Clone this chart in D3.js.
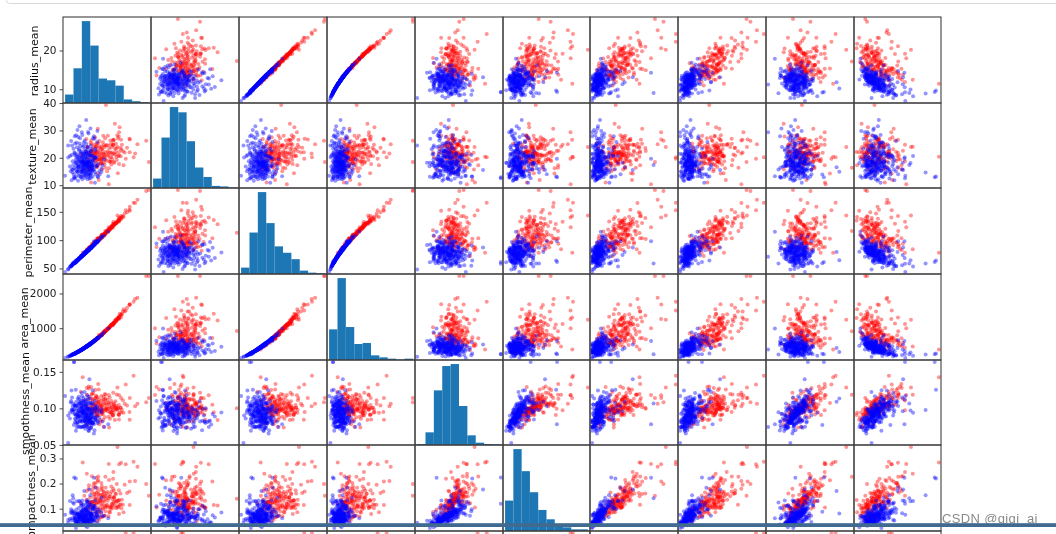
<!DOCTYPE html>
<html><head><meta charset="utf-8">
<script src="https://cdn.jsdelivr.net/npm/d3@7"></script>
<style>html,body{margin:0;padding:0;background:#fff;overflow:hidden}svg{display:block}</style>
</head><body><svg id="c" width="1056" height="534"></svg>
<script>
const features=["radius_mean","texture_mean","perimeter_mean","area_mean","smoothness_mean","compactness_mean","concavity_mean","concave points_mean","symmetry_mean","fractal_dimension_mean"];
const featureMin=[6.981,9.71,43.79,143.5,.05263,.01938,0,0,.106,.04996];
const featureMax=[28.11,39.28,188.5,2501,.1634,.3454,.4268,.2012,.304,.09744];
const yTicks=[[10,20],[10,20,30,40],[50,100,150],[1000,2000],[.05,.10,.15],[.1,.2,.3],[]];
const yTickDigits=[0,0,0,0,2,1,1];
const labelX=[35,33,29,25,26,32,30];
const histCounts=[
[19,78,184,129,55,51,39,8,4,2],
[18,96,154,144,89,39,21,4,3,1],
[19,123,243,151,82,63,44,10,4,2],
[92,246,99,48,51,14,8,4,1,4],
[3,38,164,237,243,117,29,7,3,2],
[91,245,179,116,63,35,15,11,5,5],
[240,130,75,50,30,15,8,3,2,1],
[230,110,80,60,40,25,15,6,2,1],
[10,60,170,240,130,60,25,10,3,2],
[60,210,180,70,30,10,5,2,1,1]];
const malignant=[
[17.99,10.38,122.8,1001,.1184,.2776,.3001,.1471,.2419,.07871],[20.57,17.77,132.9,1326,.08474,.07864,.0869,.07017,.1812,.05667],
[19.69,21.25,130,1203,.1096,.1599,.1974,.1279,.2069,.05999],[11.42,20.38,77.58,386.1,.1425,.2839,.2414,.1052,.2597,.09744],
[20.29,14.34,135.1,1297,.1003,.1328,.198,.1043,.1809,.05883],[12.45,15.7,82.57,477.1,.1278,.17,.1578,.08089,.2087,.07613],
[18.25,19.98,119.6,1040,.09463,.109,.1127,.074,.1794,.05742],[13.71,20.83,90.2,577.9,.1189,.1645,.09366,.05985,.2196,.07451],
[13,21.82,87.5,519.8,.1273,.1932,.1859,.09353,.235,.07389],[12.46,24.04,83.97,475.9,.1186,.2396,.2273,.08543,.203,.08243],
[16.02,23.24,102.7,797.8,.08206,.06669,.03299,.03323,.1528,.05697],[15.78,17.89,103.6,781,.0971,.1292,.09954,.06606,.1842,.06082],
[19.17,24.8,132.4,1123,.0974,.2458,.2065,.1118,.2397,.078],[15.85,23.95,103.7,782.7,.08401,.1002,.09938,.05364,.1847,.05338],
[13.73,22.61,93.6,578.3,.1131,.2293,.2128,.08025,.2069,.07682],[14.54,27.54,96.73,658.8,.1139,.1595,.1639,.07364,.2303,.07077],
[14.68,20.13,94.74,684.5,.09867,.072,.07395,.05259,.1586,.05922],[16.13,20.68,108.1,798.8,.117,.2022,.1722,.1028,.2164,.07356],
[19.81,22.15,130,1260,.09831,.1027,.1479,.09498,.1582,.05395],[15.34,14.26,102.5,704.4,.1073,.2135,.2077,.09756,.2521,.07032],
[21.16,23.04,137.2,1404,.09428,.1022,.1097,.08632,.1769,.05278],[16.65,21.38,110,904.6,.1121,.1457,.1525,.0917,.1995,.0633],
[17.14,16.4,116,912.7,.1186,.2276,.2229,.1401,.304,.07413],[14.58,21.53,97.41,644.8,.1054,.1868,.1425,.08783,.2252,.06924],
[18.61,20.25,122.1,1094,.0944,.1066,.149,.07731,.1697,.05699],[15.3,25.27,102.4,732.4,.1082,.1697,.1683,.08751,.1926,.0654],
[17.57,15.05,115,955.1,.09847,.1157,.09875,.07953,.1739,.06149],[18.63,25.11,124.8,1088,.1064,.1887,.2319,.1244,.2183,.06197],
[11.84,18.7,77.93,440.6,.1109,.1516,.1218,.05182,.2301,.07799],[17.02,23.98,112.8,899.3,.1197,.1496,.2417,.1203,.2248,.06382],
[19.27,26.47,127.9,1162,.09401,.1719,.1657,.07593,.1853,.06261],[16.13,17.88,107,807.2,.104,.1559,.1354,.07752,.1998,.06515],
[16.74,21.59,110.1,869.5,.0961,.1336,.1348,.06018,.1896,.05656],[14.25,21.72,93.63,633,.09823,.1098,.1319,.05598,.1885,.06125],
[14.99,25.2,95.54,698.8,.09387,.05131,.02398,.02899,.1565,.05504],[13.48,20.82,88.4,559.2,.1016,.1255,.1063,.05439,.172,.06419],
[13.44,21.58,86.18,563,.08162,.06031,.0311,.02031,.1784,.05587],[10.95,21.35,71.9,371.1,.1227,.1218,.1044,.05669,.1895,.0687],
[19.07,24.81,128.3,1104,.09081,.219,.2107,.09961,.231,.06343],[13.28,20.28,87.32,545.2,.1041,.1436,.09847,.06158,.1974,.06782],
[13.17,21.81,85.42,531.5,.09714,.1047,.08259,.05252,.1746,.06177],[18.65,17.6,123.7,1076,.1099,.1686,.1974,.1009,.1907,.06049],
[13.17,18.66,85.98,534.6,.1158,.1231,.1226,.0734,.2128,.06777],[18.22,18.7,120.3,1033,.1148,.1485,.1772,.106,.2092,.0631],
[15.1,22.02,97.26,712.8,.09056,.07081,.05253,.03334,.1616,.05684],[19.21,18.57,125.5,1152,.1053,.1267,.1323,.08994,.1917,.05961],
[14.71,21.59,95.55,656.9,.1137,.1365,.1293,.08123,.2027,.06758],[14.25,22.15,96.42,645.7,.1049,.2008,.2135,.08653,.1949,.07292],
[12.68,23.84,82.69,499,.1122,.1262,.1128,.06873,.1905,.0659],[14.78,23.94,97.4,668.3,.1172,.1479,.1267,.09029,.1953,.06654],
[18.94,21.31,123.6,1130,.09009,.1029,.108,.07951,.1582,.05461],[17.2,24.52,114.2,929.4,.1071,.183,.1692,.07944,.1927,.06487],
[13.8,15.79,90.43,584.1,.1007,.128,.07789,.05069,.1662,.06566],[16.07,19.65,104.1,817.7,.09168,.08424,.09769,.06638,.1798,.05391],
[13.53,10.94,87.91,559.2,.1291,.1047,.06877,.06556,.2403,.06641],[18.05,16.15,120.2,1006,.1065,.2146,.1684,.108,.2152,.06673],
[20.18,23.97,143.7,1245,.1286,.3454,.3754,.1604,.2906,.08142],[25.22,24.91,171.5,1878,.1063,.2665,.3339,.1845,.1829,.06782],
[19.1,26.29,129.1,1132,.1215,.1791,.1937,.1469,.1634,.07224],[18.46,18.52,121.1,1075,.09874,.1053,.1335,.08795,.2132,.06022],
[14.48,21.46,94.25,648.2,.09444,.09947,.1204,.04938,.2075,.05636],[19.02,24.59,122,1076,.09029,.1206,.1468,.08271,.1953,.05629],
[28.11,18.47,188.5,2499,.1142,.1516,.3201,.1595,.1648,.05525],[27.42,26.27,186.9,2501,.1084,.1988,.3635,.1689,.2061,.05623],
[24.63,21.6,165.5,1841,.103,.2106,.231,.1471,.1991,.06739],[24.25,20.2,166.2,1761,.1447,.2867,.4268,.2012,.2655,.06877],
[23.27,22.04,152.1,1686,.08439,.1145,.1324,.09702,.1528,.05173],[23.29,26.67,158.9,1685,.1141,.2084,.3523,.162,.22,.06229],
[22.27,19.67,152.8,1509,.1326,.2768,.4264,.1823,.2556,.07039],[21.71,17.25,140.9,1546,.09384,.08562,.1168,.08465,.1717,.05054],
[21.09,26.57,142.7,1311,.1141,.2832,.2487,.1496,.2395,.07398],[20.73,31.12,135.7,1419,.09469,.1143,.1367,.08646,.1769,.05674],
[20.58,22.14,134.7,1290,.0909,.1348,.164,.09561,.1765,.05024],[20.31,27.06,132.9,1288,.1,.1088,.1519,.09333,.1816,.05572],
[22.01,21.9,147.2,1482,.1063,.1954,.2448,.1501,.1824,.0614],[21.56,22.39,142,1479,.111,.1159,.2439,.1389,.1726,.05623],
[20.13,28.25,131.2,1261,.0978,.1034,.144,.09791,.1752,.05533],[16.6,28.08,108.3,858.1,.08455,.1023,.09251,.05302,.159,.05648],
[20.6,29.33,140.1,1265,.1178,.277,.3514,.152,.2397,.07016],[17.3,39.28,113,920,.1,.14,.12,.07,.186,.0605],
[15.05,19.07,97.26,701.9,.09215,.08597,.07486,.04335,.1561,.05915],[14.9,22.53,102.1,685,.09947,.2225,.2733,.09711,.2041,.06898],
[17.93,24.48,115.2,998.9,.08855,.07027,.05699,.04744,.1538,.0551],[15.22,30.62,103.4,716.9,.1048,.2087,.255,.09429,.2128,.07152],
[16.3,15.7,104.7,819.8,.09427,.06712,.05526,.04563,.1711,.05657],[15.46,19.48,101.7,748.9,.1092,.1223,.1466,.08087,.1931,.05796],
[15.12,16.68,98.78,716.6,.08876,.09588,.0755,.04079,.1594,.05986],[15.32,17.27,103.2,713.3,.1335,.2284,.2448,.1242,.2398,.07596],
[15.46,11.89,102.5,736.9,.1257,.1555,.2032,.1097,.1966,.07069],[18.31,18.58,118.6,1041,.08588,.08468,.08169,.05814,.1621,.05425],
[17.75,28.03,117.3,981.6,.09997,.1314,.1698,.08293,.1713,.05916],[19.55,23.21,128.9,1174,.101,.1318,.1856,.1021,.1989,.05884],
[19.53,32.47,128,1223,.0842,.113,.1145,.06637,.1428,.05313],[19.4,18.18,127.2,1145,.1037,.1442,.1626,.09464,.1893,.05892],
[17.01,20.26,109.7,904.3,.08772,.07304,.0695,.0539,.2026,.05223],[15.5,21.08,102.9,803.1,.112,.1571,.1522,.08481,.2085,.06864],
[17.08,27.15,111.2,930.9,.09898,.111,.1007,.06431,.1793,.06281],[17.06,21,111.8,918.6,.1119,.1056,.1508,.09934,.1727,.06071],
[16.11,18.05,105.1,813,.09721,.1137,.09447,.05943,.1861,.06248],[17.47,24.68,116.1,984.6,.1049,.1603,.2159,.1043,.1538,.06365],
[16.25,19.51,109.8,815.8,.1026,.1893,.2236,.09194,.2151,.06578],[13.61,24.98,88.05,582.7,.09488,.08511,.08625,.04489,.1609,.05871],
[13.77,22.29,90.63,588.9,.12,.1267,.1385,.06526,.1834,.06877],[13.96,17.05,91.43,602.4,.1096,.1279,.09789,.05246,.1908,.0613],
[14.19,23.81,92.87,610.7,.09463,.1306,.1115,.06462,.2235,.06433],[14.45,20.22,94.49,642.7,.09872,.1206,.118,.0598,.195,.06466],
[14.87,16.67,98.64,682.5,.1162,.1649,.169,.08923,.2157,.06768],[14.62,24.02,94.57,662.7,.08974,.08606,.03102,.02957,.1685,.05866],
[18.08,21.84,117.4,1024,.07371,.08642,.1103,.05778,.177,.0534],[19.16,26.6,126.2,1138,.102,.1453,.1921,.09664,.1902,.0622],
[16.46,20.11,109.3,832.9,.09831,.1556,.1793,.08866,.1794,.06323],[15.28,22.41,98.92,710.6,.09057,.1052,.05375,.03263,.1727,.06317],
[17.68,20.74,117.4,963.7,.1115,.1665,.1855,.1054,.1971,.06166],[18.82,21.97,123.7,1110,.1018,.1389,.1594,.08744,.1943,.06132],
[14.42,19.77,94.48,642.5,.09752,.1141,.09388,.05839,.1879,.0639],[12.34,26.86,81.15,477.4,.1034,.1353,.1085,.04562,.1943,.06937],
[16.69,20.2,107.1,857.6,.07497,.07112,.03649,.02307,.1846,.05325],[12.89,15.7,84.08,516.6,.07818,.0958,.1115,.0339,.1432,.05935],
[13.27,17.02,84.55,546.4,.08445,.04994,.03554,.02456,.1496,.05674],[16.16,21.54,106.2,809.8,.1008,.1284,.1043,.05613,.216,.05891],
[15.61,19.38,100,758.6,.0784,.05616,.04209,.02847,.1547,.05443],[20.51,27.81,134.4,1319,.09159,.1074,.1554,.0834,.1448,.05592],
[23.21,26.97,153.5,1670,.09509,.1682,.195,.1237,.1909,.06309],[20.47,20.67,134.7,1299,.09156,.1313,.1523,.1015,.2166,.05419],
[20.55,20.86,137.8,1308,.1046,.1739,.2085,.1322,.2127,.06251],[20.94,23.56,138.9,1364,.1007,.1606,.2712,.131,.2205,.05898],
[18.45,21.91,120.2,1075,.0943,.09709,.1153,.06847,.1692,.05727],[16.24,18.77,108.8,805.1,.1066,.1802,.1948,.09052,.1876,.06684],
[19.89,20.26,130.5,1214,.1037,.131,.1411,.09431,.1802,.06188],[19.79,25.12,130.4,1192,.1015,.1589,.2545,.1149,.2202,.06113],
[12.34,22.22,79.85,464.5,.1012,.1015,.0537,.02822,.1551,.06761],[16.35,23.29,109,840.4,.09742,.1497,.1811,.08773,.2175,.06218],
[15.7,20.31,101.2,766.6,.09597,.08799,.06593,.05189,.1618,.05549],[17.19,22.07,111.6,928.3,.09726,.08995,.09061,.06527,.1867,.0558],
[14.8,17.9,96.6,672,.102,.122,.096,.058,.189,.0618],[15.9,19.2,104.6,790,.105,.134,.128,.072,.194,.0625],[16.4,22.8,107.5,835,.094,.118,.112,.064,.176,.0592],
[17.4,18.9,114.3,945,.099,.112,.118,.071,.183,.0583],[18.1,23.4,119.4,1010,.103,.148,.171,.092,.197,.0604],[18.9,19.6,125,1105,.097,.115,.138,.084,.172,.0568],
[16.8,24.6,110.3,875,.108,.165,.185,.094,.206,.0641],[15.6,26.1,102.2,755,.101,.143,.151,.078,.188,.0627],[14.3,24.9,94.1,632,.106,.158,.132,.067,.199,.0666],
[13.9,23.1,91.2,595,.112,.176,.156,.073,.214,.0712],[14.9,19.4,97.8,688,.109,.139,.116,.069,.192,.0634],[15.4,23.6,101,742,.098,.127,.11,.063,.181,.0598],
[16.9,17.6,110.8,888,.104,.128,.134,.081,.178,.0586],[17.7,22.3,116.5,975,.096,.105,.121,.073,.168,.0561],[18.4,26.3,121.3,1062,.101,.159,.183,.098,.203,.0609],
[19.3,21.6,127,1165,.107,.146,.176,.101,.19,.0588],[15.2,20.9,99.6,725,.115,.181,.163,.085,.224,.0701],[14.1,19.6,92.3,618,.121,.189,.174,.081,.231,.0742],
[16.5,25.7,108,848,.092,.098,.084,.052,.17,.0573],[17.2,19.3,112.9,930,.113,.152,.168,.096,.202,.0617],[15.8,21.9,103.5,778,.103,.137,.142,.076,.185,.0612],
[16.2,24.2,106,822,.111,.174,.178,.088,.211,.0658],[18.7,23.9,122.8,1096,.093,.119,.152,.083,.166,.0554],[14.6,18.8,95.7,660,.125,.201,.189,.091,.228,.0731],
[13.6,26.4,89.2,575,.1,.115,.09,.05,.178,.0632],[17.9,21.1,117.6,1000,.108,.142,.159,.09,.187,.0596],[15,24.4,98.2,700,.096,.125,.118,.06,.193,.0605],
[19.9,23.5,131.2,1225,.099,.125,.158,.092,.184,.0569],[16.7,18.3,109.4,865,.116,.167,.158,.094,.201,.0643],[14.2,20.8,93.2,625,.104,.147,.124,.062,.197,.0673],
[12.9,19.4,84.4,510,.13,.179,.144,.07,.226,.0752],[13.4,25.5,87.8,552,.098,.121,.101,.048,.186,.0647],[21.3,24.8,141.5,1405,.098,.136,.189,.113,.178,.0565],
[22.6,23.7,149.4,1590,.104,.162,.238,.132,.187,.0581],[21,20.6,138.6,1380,.101,.118,.167,.103,.174,.0553],[20,19.2,132.1,1250,.119,.198,.227,.126,.221,.0645]
];
const benign=[
[13.54,14.36,87.46,566.3,.09779,.08129,.06664,.04781,.1885,.05766],[13.08,15.71,85.63,520,.1075,.127,.04568,.0311,.1967,.06811],
[9.504,12.44,60.34,273.9,.1024,.06492,.02956,.02076,.1815,.06905],[13.03,18.42,82.61,523.8,.08983,.03766,.02562,.02923,.1467,.05863],
[8.196,16.84,51.71,201.9,.086,.05943,.01588,.005917,.1769,.06503],[12.05,14.63,78.04,449.3,.1031,.09092,.06592,.02749,.1675,.06043],
[13.49,22.3,86.91,561,.08752,.07698,.04751,.03384,.1809,.05718],[11.76,21.6,74.72,427.9,.08637,.04966,.01657,.01115,.1495,.05888],
[13.64,16.34,87.21,571.8,.07685,.06059,.01857,.01723,.1353,.05953],[11.94,18.24,75.71,437.6,.08261,.04751,.01972,.01349,.1868,.0611],
[11.52,18.75,73.34,409,.09524,.05473,.03036,.02278,.192,.05907],[13.05,19.31,82.61,527.2,.0806,.03789,.000692,.004167,.1819,.05501],
[8.618,11.79,54.34,224.5,.09752,.05272,.02061,.007799,.1683,.07187],[10.17,14.88,64.55,311.9,.1134,.08061,.01084,.0129,.2743,.0696],
[8.598,20.98,54.66,221.8,.1243,.08963,.03,.009259,.1828,.06757],[9.173,13.86,59.2,260.9,.07721,.08751,.05988,.0218,.2341,.06963],
[9.465,21.01,60.11,269.4,.1044,.07773,.02172,.01504,.1717,.06899],[11.31,19.04,71.8,394.1,.08139,.04701,.03709,.0223,.1516,.05667],
[9.029,17.33,58.79,250.5,.1066,.1413,.313,.04375,.2111,.08046],[12.78,16.49,81.37,502.5,.09831,.05234,.03653,.02864,.159,.05653],
[8.888,14.64,58.79,244,.09783,.1531,.08606,.02872,.1902,.0898],[12.31,16.52,79.19,470.9,.09172,.06829,.03372,.02272,.172,.05914],
[12,15.65,76.95,443.3,.09723,.07165,.04151,.01863,.2079,.05968],[12.36,21.8,79.78,466.1,.08772,.09445,.06015,.03745,.193,.06404],
[6.981,13.43,43.79,143.5,.117,.07568,0,0,.193,.07818],[7.76,24.54,47.92,181,.05263,.04362,0,0,.1587,.05884],
[8.219,20.7,53.27,203.9,.09405,.1305,.1321,.02168,.2222,.08261],[12.86,18,83.19,506.3,.09934,.09546,.03889,.02315,.1718,.05997],
[11.45,20.97,73.81,401.5,.1102,.09362,.04591,.02233,.1842,.07005],[13.34,15.86,86.49,520,.1078,.1535,.1169,.06987,.1942,.06902],
[12.77,22.47,81.72,506.3,.09055,.05761,.04711,.02704,.1585,.06065],[14.26,19.65,97.83,629.9,.07837,.2233,.3003,.07798,.1704,.07769],
[10.51,20.19,68.64,334.2,.1122,.1303,.06476,.03068,.1922,.07782],[8.726,15.83,55.84,230.9,.115,.08201,.04132,.01924,.1649,.07633],
[11.93,21.53,76.53,438.6,.09768,.07849,.03328,.02008,.1688,.06194],[8.95,15.76,58.74,245.2,.09462,.1243,.09263,.02308,.1305,.07163],
[14.87,20.21,96.12,680.9,.09587,.08345,.06824,.04951,.1487,.05748],[12.18,20.52,77.22,458.7,.08013,.04038,.02383,.0177,.1739,.05677],
[12.62,23.97,81.35,496.4,.07903,.07529,.05438,.02036,.1514,.06019],[13.38,30.72,86.34,557.2,.09245,.07426,.02819,.03264,.1375,.06016],
[11.34,18.61,72.76,391.2,.1049,.08499,.04302,.02594,.1927,.06211],[9.777,16.99,62.5,290.2,.1037,.08404,.04334,.01778,.1584,.07065],
[12.63,20.76,82.15,480.4,.09933,.1209,.1065,.06021,.1735,.0707],[14.26,18.17,91.22,633.1,.06576,.0522,.02475,.01374,.1635,.05586],
[10.51,23.09,66.85,334.2,.1015,.06797,.02495,.01875,.1695,.06556],[8.726,24.5,56.2,240,.0986,.0615,.0201,.0102,.171,.0685],
[11.89,17.36,76.2,435.6,.1225,.0721,.05929,.07404,.2015,.05875],[10.2,17.48,65.05,321.2,.08054,.05907,.05774,.01071,.1964,.06315],
[9.742,15.67,61.5,289.9,.09037,.04689,.01103,.01407,.2081,.06312],[10.94,18.59,70.39,370,.1004,.0746,.04944,.02932,.1486,.06615],
[12.39,17.48,80.64,462.9,.1042,.1297,.05892,.0288,.1779,.06588],[13.28,13.72,85.79,541.8,.08363,.08575,.05077,.02864,.1617,.05594],
[11.61,16.02,75.46,408.2,.1088,.1168,.07097,.04497,.1886,.0632],[11.22,19.86,71.94,387.3,.1054,.06779,.005006,.007583,.194,.06028],
[13.85,17.21,88.44,588.7,.08785,.06136,.0142,.01141,.1614,.0589],[12.19,13.29,79.08,455.8,.1066,.09509,.02855,.02882,.188,.06471],
[10.71,20.39,69.5,344.9,.1082,.1289,.08448,.02867,.1668,.06862],[11.85,17.46,75.54,432.7,.08372,.05642,.02688,.0228,.1875,.05715],
[12.96,18.29,84.18,525.2,.07351,.07899,.04057,.01883,.1874,.05899],[11.64,18.33,75.17,412.5,.1142,.1017,.0707,.03485,.1801,.0652],
[13.5,12.71,85.69,566.2,.07376,.03614,.002758,.004419,.1365,.05335],[10.03,21.28,63.19,307.3,.08117,.03912,.00247,.005159,.163,.06439],
[12.7,12.17,80.88,495,.08785,.05794,.0236,.02402,.1583,.06275],[9.755,28.2,61.68,290.9,.07984,.04626,.01541,.01043,.1621,.05952],
[11.28,13.39,73,384.8,.1164,.1136,.04635,.04796,.1771,.06072],[13.47,14.06,87.32,546.3,.1071,.1155,.05786,.05266,.1779,.06639],
[11.04,16.83,70.92,373.2,.1077,.07804,.03046,.0248,.1714,.0634],[11.06,14.96,71.49,373.9,.1033,.09097,.05397,.03341,.1776,.06907],
[12.18,14.08,77.25,461.4,.07734,.03212,.01123,.005051,.1673,.05649],[9.676,13.14,64.12,272.5,.1255,.2204,.1188,.07038,.2057,.09575],
[12.22,20.04,79.47,453.1,.1096,.1152,.08175,.02166,.2124,.06894],[13.62,23.23,87.19,573.2,.09246,.06747,.02974,.02443,.1664,.05801],
[10.32,16.35,65.31,324.9,.09434,.04994,.01012,.005495,.1885,.06201],[10.26,16.58,65.85,320.8,.08877,.08066,.04358,.02438,.1669,.06714],
[9.683,19.34,61.05,285.7,.08491,.0503,.02337,.009615,.158,.06235],[10.82,24.21,68.89,361.6,.08192,.06602,.01548,.00816,.1976,.06328],
[10.86,21.48,68.51,360.5,.07431,.04227,0,0,.1661,.05948],[11.13,22.44,71.49,378.4,.09566,.08194,.04824,.02257,.203,.06552],
[12.77,29.43,81.35,507.9,.08276,.04234,.01997,.01499,.1539,.05637],[9.333,21.94,59.01,264,.0924,.05605,.03996,.01282,.1692,.06576],
[12.88,28.92,82.5,514.3,.08123,.05824,.06195,.02343,.1566,.05708],[10.29,27.61,65.67,321.4,.0903,.07658,.05999,.02738,.1593,.06127],
[10.16,19.59,64.73,311.7,.1003,.07504,.005025,.01116,.1791,.06331],[9.423,27.88,59.26,271.3,.08123,.04971,0,0,.1742,.06059],
[14.59,22.68,96.39,657.1,.08473,.133,.1029,.03736,.1454,.06147],[11.51,23.93,74.52,403.5,.09261,.1021,.1112,.04105,.1388,.0657],
[14.05,27.15,91.38,600.4,.09929,.1126,.04462,.04304,.1537,.06171],[11.2,29.37,70.67,386,.07449,.03558,0,0,.106,.05502],
[7.76,20.1,49,188,.0901,.055,.01,.008,.168,.0712],[15.71,13.93,102,761.7,.09462,.09462,.07135,.05933,.1816,.05723],
[14.64,16.85,94.21,666,.08641,.06698,.05192,.02791,.1409,.05355],[16.84,19.46,108.4,880.2,.07445,.07223,.0515,.02771,.1844,.05268],
[15.27,12.91,98.17,725.5,.08182,.0623,.05892,.03157,.1359,.05526],[17.85,13.23,114.6,992.1,.07838,.06217,.04445,.04178,.122,.05243],
[15.08,25.74,98,716.6,.1024,.09769,.1235,.06553,.1647,.06464],[16.17,16.07,106.3,788.5,.0988,.1438,.06651,.05397,.199,.06572],
[14.06,17.18,89.75,609.1,.08045,.05361,.02681,.03251,.1641,.05764],[15.19,13.21,97.65,711.8,.07963,.06934,.03393,.02657,.1721,.05544],
[14.97,16.95,96.22,685.9,.09855,.07885,.02602,.03781,.178,.0565],[16.14,14.86,104.3,800,.09495,.08501,.055,.04528,.1735,.05875],
[14.45,20.22,91.56,640.1,.09997,.1,.0608,.0398,.186,.0595],[14.69,13.98,98.22,656.1,.1031,.1836,.145,.063,.2086,.07406],
[13.87,20.7,89.77,584.8,.09578,.1018,.03688,.02369,.162,.06688],[13.2,17.43,84.13,541.6,.07215,.04524,.04336,.01105,.1487,.05635],
[13.7,17.64,87.76,571.1,.0995,.07957,.04548,.0316,.1732,.06088],[13.14,20.74,85.98,536.9,.08675,.1089,.1085,.0351,.1562,.0602],
[12.72,13.78,81.78,492.1,.09667,.08393,.01288,.01924,.1638,.061],[12.75,16.7,82.51,493.8,.1125,.1117,.0388,.02995,.212,.06623],
[12.27,17.92,78.41,466.1,.08685,.06526,.03211,.02653,.1966,.05597],[12.16,18.03,78.29,455.3,.09087,.07838,.02916,.01527,.1464,.06284],
[12.25,22.44,78.18,466.5,.08192,.052,.01714,.01261,.1544,.05976],[12.1,17.72,78.07,446.2,.1029,.09758,.04783,.03326,.1937,.06161],
[12.47,18.6,81.09,481.9,.09965,.1058,.08005,.03821,.1925,.06373],[12.06,12.74,76.84,448.6,.09311,.05241,.01972,.01963,.159,.05907],
[12.43,17,78.6,477.3,.07557,.03454,.01342,.01699,.1472,.05561],[12.54,18.07,79.42,491.9,.07436,.0265,.001194,.005449,.1528,.05185],
[11.5,18.45,73.28,407.4,.09345,.05991,.02638,.02069,.1834,.05934],[11.3,18.19,73.93,389.4,.09592,.1325,.1548,.02854,.2054,.07669],
[11.6,24.49,74.23,417.2,.07474,.05688,.01974,.01313,.1935,.05878],[11.43,15.39,73.06,399.8,.09639,.06889,.03503,.02875,.1734,.05865],
[11.25,14.78,71.38,390,.08306,.04458,.0009737,.002941,.1773,.06081],[11.08,14.71,70.21,372.7,.1006,.05743,.02363,.02583,.1566,.06669],
[10.97,17.2,71.73,371.5,.08915,.1113,.09457,.03613,.1489,.0664],[10.9,12.96,68.69,366.8,.07515,.03718,.00309,.006588,.1442,.05743],
[10.65,25.22,68.01,347,.09657,.07234,.02379,.01615,.1897,.06329],[10.49,18.61,66.86,334.3,.1068,.06678,.02297,.0178,.1482,.066],
[10.44,15.46,66.62,329.6,.1053,.07722,.006643,.01216,.1788,.0645],[10.08,15.11,63.76,317.5,.09267,.04695,.001597,.002404,.1703,.06048],
[9.904,18.06,64.6,302.4,.09699,.1294,.1307,.03716,.1669,.08116],[9.72,18.22,60.73,288.1,.0695,.02344,0,0,.1653,.06447],
[9.405,21.7,59.6,271.2,.1044,.06159,.02047,.01257,.2025,.06601],[9.268,12.87,61.49,248.7,.1634,.2239,.0973,.05252,.2378,.09502],
[11.66,17.07,73.7,421,.07561,.0363,.008306,.01162,.1671,.05731],[11.8,16.58,78.99,432,.1091,.17,.1659,.07415,.2678,.07371],
[11.71,17.19,74.68,420.3,.09774,.06141,.03809,.03239,.1516,.06095],[12.58,18.4,79.83,489,.08393,.04216,.00186,.002924,.1697,.05855],
[12.89,13.12,81.89,515.9,.06955,.03729,.0226,.01171,.1337,.05581],[12.62,17.15,80.62,492.9,.08583,.0543,.02966,.02272,.1799,.05826],
[12.65,18.17,82.69,485.6,.1076,.1334,.08017,.05074,.1641,.06854],[13.05,13.84,82.71,530.6,.08352,.03735,.004559,.008829,.1453,.05518],
[13.11,15.56,87.21,530.2,.1398,.1765,.2071,.09601,.1925,.07692],[13.4,16.95,85.48,552.4,.07937,.05696,.02181,.01473,.165,.05701],
[13.59,17.84,86.24,572.3,.07948,.04052,.01997,.01238,.1573,.0552],[13.66,15.15,88.27,580.6,.08268,.07548,.04249,.02471,.1792,.05897],
[13.68,16.33,87.76,575.5,.09277,.07255,.01752,.0188,.1631,.06155],[13.9,19.24,88.73,602.9,.07991,.05326,.02995,.0207,.1579,.05594],
[13.94,13.17,90.31,594.2,.1248,.09755,.101,.06615,.1976,.06457],[14.02,15.66,89.59,606.5,.07966,.05581,.02087,.02652,.1589,.05586],
[14.2,20.53,92.41,618.4,.08931,.1108,.05063,.03058,.1506,.06009],[14.22,27.85,92.55,623.9,.08223,.1039,.1103,.04408,.1342,.06129],
[14.4,26.99,92.25,646.1,.06995,.05223,.03476,.01737,.1707,.05433],[14.5,10.89,94.28,640.7,.1101,.1099,.08842,.05778,.1856,.06402],
[14.6,23.29,93.97,664.7,.08682,.06636,.0839,.05271,.1627,.05416],[15.13,29.81,96.71,719.5,.0832,.04605,.04686,.02739,.1852,.05294],
[9.2,12.5,58.5,258,.1634,.12,.04,.02,.2,.078],[12.3,33.81,78,465,.0945,.085,.04,.025,.17,.063],
[10.6,31.5,68.4,342,.089,.065,.03,.016,.16,.0625],[11.3,28.3,72.2,393,.1,.09,.05,.025,.175,.064],
[8.5,26.1,54.5,222,.11,.098,.05,.017,.19,.073],[9.9,25.5,63.8,302,.091,.08,.04,.018,.178,.0655],
[10.1,30.2,64,313,.078,.045,.01,.008,.166,.0598],[11.7,25.6,75.1,418,.094,.072,.035,.02,.184,.0632],
[10.4,17.1,66.6,332,.092,.062,.028,.017,.176,.0632],[10.6,18.9,67.9,345,.097,.071,.031,.019,.181,.0641],[10.9,15.8,69.8,366,.088,.058,.022,.016,.169,.0618],
[11.1,20.1,71,379,.094,.066,.03,.02,.172,.0622],[11.2,16.4,71.8,387,.101,.079,.042,.024,.185,.0637],[11.4,19.3,72.9,401,.086,.053,.024,.015,.165,.0596],
[11.5,14.9,73.7,410,.098,.073,.036,.023,.178,.0621],[11.6,20.7,74.2,417,.091,.067,.033,.021,.174,.0611],[11.7,17.9,75,426,.105,.086,.048,.027,.191,.0645],
[11.8,15.4,75.6,433,.083,.049,.018,.013,.158,.0581],[11.9,19.8,76.1,439,.096,.075,.039,.024,.183,.0628],[12,22.3,76.8,445,.089,.061,.027,.018,.168,.0601],
[12.1,16.1,77.6,452,.1,.082,.044,.026,.186,.0626],[12.2,18.7,78.2,460,.087,.056,.025,.017,.163,.0589],[12.3,21.2,78.8,467,.093,.069,.035,.022,.177,.0608],
[12.4,15.2,79.6,474,.106,.092,.05,.029,.192,.0639],[12.5,19.4,80.1,482,.084,.052,.023,.016,.161,.0578],[12.6,17.3,80.9,491,.095,.074,.04,.025,.179,.0612],
[12.7,20.3,81.5,498,.09,.063,.03,.02,.171,.0594],[12.8,14.4,82.2,506,.102,.086,.046,.029,.188,.0622],[12.9,18.5,82.7,513,.086,.055,.026,.018,.16,.0573],
[13,21.7,83.4,521,.094,.077,.044,.027,.176,.0601],[13.1,16.6,84.1,530,.099,.081,.047,.029,.184,.0616],[13.2,19.1,84.7,537,.083,.054,.028,.019,.157,.0565],
[13.3,15,85.5,546,.091,.066,.034,.024,.169,.0586],[13.4,22.6,86,554,.088,.071,.042,.026,.173,.0582],[13.5,18.2,86.7,563,.096,.079,.05,.031,.181,.0598],
[13.6,20.4,87.3,572,.081,.057,.032,.021,.155,.0553],[13.8,16.5,88.6,590,.092,.073,.041,.028,.172,.0576],[14,18.9,90,610,.087,.068,.043,.029,.166,.0561],
[14.3,15.6,92,635,.095,.08,.052,.034,.179,.0577],[14.7,19.9,94.6,672,.084,.063,.038,.027,.16,.0548],[15,17.2,96.8,703,.09,.076,.05,.035,.168,.0558],
[9.3,16.2,59.7,267,.099,.071,.026,.015,.183,.0681],[9.6,18.4,61.5,285,.092,.062,.024,.013,.177,.0662],[9.9,14.7,63.6,303,.104,.076,.03,.018,.186,.0671],
[10.1,20.6,64.7,315,.088,.056,.019,.011,.17,.0639],[10.3,16.8,66,327,.096,.068,.025,.016,.178,.0651],[10.5,22.7,67.2,341,.09,.064,.027,.015,.174,.0635],
[10.7,13.9,68.6,354,.107,.087,.039,.022,.193,.0668],[10.8,18.1,69.2,359,.083,.054,.017,.012,.16,.0605],[11,21.9,70.5,375,.095,.073,.034,.02,.18,.0629],
[11.3,15.9,72.5,396,.091,.06,.024,.018,.167,.0608],[11.55,21.4,74,412,.103,.092,.058,.03,.196,.0655],[11.85,13.6,75.9,437,.087,.051,.016,.013,.162,.0596],
[12.15,19.6,77.9,456,.112,.101,.06,.034,.2,.0658],[12.45,14.6,79.8,478,.078,.043,.014,.012,.15,.0571],[12.75,23.8,81.7,503,.099,.09,.056,.032,.189,.0627],
[13.15,12.4,84.3,533,.093,.063,.024,.021,.163,.0584],[13.45,24.4,86.2,558,.086,.066,.037,.024,.168,.0573],[13.75,18.8,88.1,585,.105,.097,.068,.04,.193,.0613],
[10.25,11.6,65.8,322,.086,.05,.015,.01,.165,.0622],[11.35,12.2,72.9,397,.094,.065,.025,.019,.171,.0612],[11.95,26.3,76.6,441,.082,.06,.029,.017,.158,.0584],
[12.35,25.1,79.2,470,.09,.072,.04,.023,.17,.0598],[9.1,23.3,58.3,256,.097,.082,.032,.014,.182,.0689],[9.5,25.2,60.9,278,.086,.06,.021,.01,.169,.0643],
[10.75,27.1,68.9,358,.083,.057,.024,.012,.164,.0606],[8.9,18.7,57,248,.103,.09,.04,.016,.192,.0712],[8.4,15.1,53.9,217,.108,.084,.03,.013,.187,.0728],
[11.05,12.9,70.8,376,.111,.088,.04,.027,.19,.0654],[13.25,20.9,84.9,540,.113,.115,.085,.048,.19,.0641],[12.55,21.5,80.5,487,.118,.128,.09,.046,.209,.0686],
[11.15,17.7,71.5,382,.121,.12,.075,.036,.204,.0712],[10.45,19.2,66.9,335,.116,.103,.055,.025,.197,.0721],[9.8,20.4,62.9,296,.109,.097,.047,.021,.19,.0708],
[12.85,15.3,82.5,510,.116,.109,.08,.047,.199,.0645],[13.95,15.4,89.5,603,.107,.102,.073,.046,.187,.0608],[14.55,14.7,93.4,660,.101,.09,.064,.042,.181,.0588],
[15.3,17.9,98.4,728,.099,.088,.066,.046,.177,.0567],[15.6,15.2,100.4,757,.087,.072,.048,.036,.16,.0551],[16.4,17.3,105.6,838,.082,.07,.05,.037,.158,.0538],
[11.75,14.1,75.2,425,.076,.041,.012,.01,.147,.0577],[10.35,13.4,66.3,330,.075,.04,.01,.009,.15,.0607],[12.05,23.1,77.1,449,.072,.043,.015,.011,.146,.0567],
[12.95,16.9,83,520,.069,.038,.017,.011,.144,.0553],[13.55,21.2,86.8,568,.073,.047,.024,.015,.152,.0552],[9.95,23.9,63.7,306,.074,.04,.006,.005,.154,.0596]
];
const W=1056,H=534,cols=[63,151,239,327,415,503,590,678,766,854,941],rowsY=[17,103,188,274,360,445,531,617];
const svg=d3.select("#c");
const defs=svg.append("defs");
defs.append("filter").attr("id","soft").attr("x","-2%").attr("y","-2%").attr("width","104%").attr("height","104%")
  .append("feGaussianBlur").attr("stdDeviation",0.38);
svg.append("rect").attr("width",W).attr("height",H).attr("fill","#fff");
const root=svg.append("g").attr("filter","url(#soft)");
root.append("rect").attr("x",6.5).attr("y",-8).attr("width",W+20).attr("height",11.5).attr("rx",3).attr("fill","#fff").attr("stroke","#d9d9d9").attr("stroke-width",1);
const pad=f=>{const d=(featureMax[f]-featureMin[f])*.025;return [featureMin[f]-d,featureMax[f]+d];};
const nRows=7,nCols=10;
for(let r=0;r<nRows;r++){
  for(let c=0;c<nCols;c++){
    const x0=cols[c],x1=cols[c+1],y0=rowsY[r],y1=rowsY[r+1];
    const g=root.append("g");
    const x=d3.scaleLinear().domain(pad(c)).range([x0,x1]);
    if(r===c){
      const counts=histCounts[c];
      const y=d3.scaleLinear().domain([0,d3.max(counts)*1.05]).range([y1,y0]);
      const step=(featureMax[c]-featureMin[c])/10;
      g.selectAll("rect").data(counts).join("rect")
        .attr("x",(d,i)=>x(featureMin[c]+i*step)).attr("width",(d,i)=>x(featureMin[c]+(i+1)*step)-x(featureMin[c]+i*step))
        .attr("y",d=>y(d)).attr("height",d=>y1-y(d)).attr("fill","#1f77b4");
    }else{
      const y=d3.scaleLinear().domain(pad(r)).range([y1,y0]);
      [[malignant,"red"],[benign,"blue"]].forEach(([rows,col])=>{
        g.append("g").selectAll("circle").data(rows).join("circle")
          .attr("cx",d=>x(d[c])).attr("cy",d=>y(d[r])).attr("r",2).attr("fill",col).attr("fill-opacity",.42);
      });
    }
  }
}
for(let r=0;r<nRows;r++){
  const y0=rowsY[r],y1=rowsY[r+1];
  for(let c=0;c<nCols;c++){
    root.append("rect").attr("x",cols[c]).attr("y",y0).attr("width",cols[c+1]-cols[c]).attr("height",y1-y0)
      .attr("fill","none").attr("stroke","#404040").attr("stroke-width",1.1);
  }
  if(yTicks[r].length){
    const y=d3.scaleLinear().domain(pad(r)).range([y1,y0]);
    const ax=root.append("g").attr("transform",`translate(${cols[0]},0)`)
      .call(d3.axisLeft(y).tickValues(yTicks[r]).tickSize(3.5).tickPadding(3).tickFormat(d3.format("."+yTickDigits[r]+"f")));
    ax.select(".domain").remove();
    ax.selectAll("line").attr("stroke","#222").attr("stroke-width",.8);
    ax.selectAll("text").attr("fill","#222").style("font","10.5px 'DejaVu Sans'");
  }
  if(r<6) root.append("text").attr("transform",`translate(${labelX[r]},${(y0+y1)/2+1}) rotate(-90)`)
    .attr("text-anchor","middle").attr("dominant-baseline","middle").attr("fill","#111")
    .style("font","11px 'DejaVu Sans'").text(features[r]);
}
root.append("text").attr("x",942).attr("y",523).attr("fill","#8a8a8a").style("font","13px 'Liberation Sans'").attr("letter-spacing","0.35").text("CSDN @qiqi_ai_");
root.append("rect").attr("x",0).attr("y",523.2).attr("width",W).attr("height",3.8).attr("fill","#3f6a8f");
</script></body></html>
